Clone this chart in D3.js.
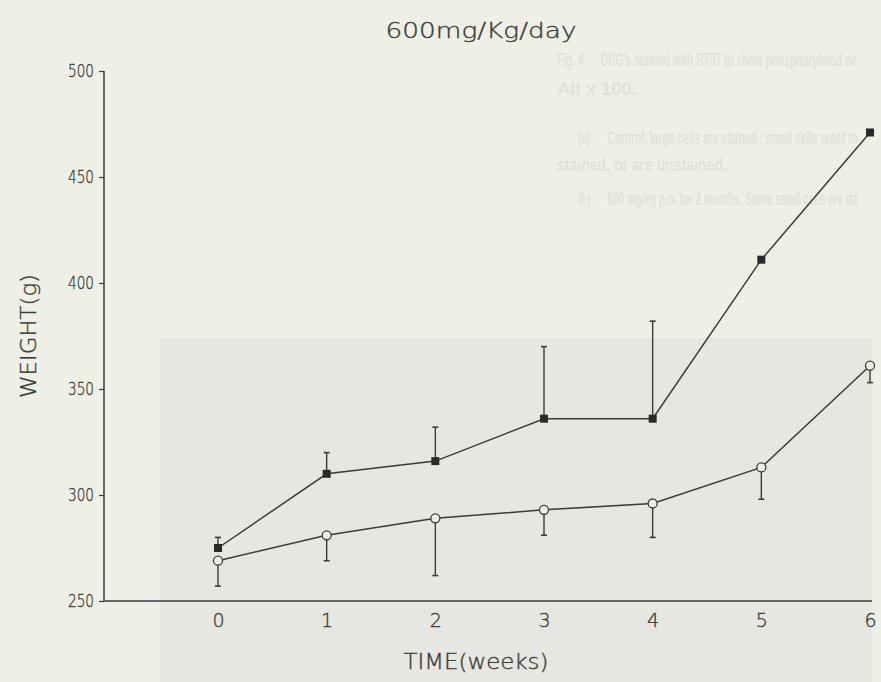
<!DOCTYPE html>
<html>
<head>
<meta charset="utf-8">
<script src="https://cdn.jsdelivr.net/npm/d3@7"></script>
<style>
  body { margin: 0; background: #eef0e5; }
  svg { display: block; }
</style>
</head>
<body>
<svg id="chart"></svg>
<script>
// values
var weeks = [0, 1, 2, 3, 4, 5, 6];
var squareMean = [275, 310, 316, 336, 336, 411, 471];
var squareErr  = [5, 10, 16, 34, 46, 0, 0];      // bars drawn upward
var circleMean = [269, 281, 289, 293, 296, 313, 361];
var circleErr  = [12, 12, 27, 12, 16, 15, 8];    // bars drawn downward
var yTicks = [250, 300, 350, 400, 450, 500];

// faint text showing through from the next page
var ghostLines = [
    { x: 557, y: 66,  w: 300, t: "Fig. 4      DRG's stained with RT97 to show phosphorylated ne" },
    { x: 557, y: 95,  w: 80,  t: "All x 100." },
    { x: 578, y: 144, w: 280, t: "(a)      Control. large cells are stained ; small cells react to" },
    { x: 557, y: 171, w: 170, t: "stained, or are unstained." },
    { x: 578, y: 205, w: 280, t: "(b)      600 mg/kg p.o. for 2 months. Some small cells are da" }
];

function draw_chart() {
    var width = 881;
    var height = 682;
    var ink = "#3b3b38";
    var font = "DejaVu Sans, Liberation Sans, sans-serif";

    var svg = d3.select("#chart")
        .attr("width", width)
        .attr("height", height);

    svg.append("rect")
        .attr("width", width).attr("height", height)
        .attr("fill", "#eef0e5");

    // grey photo region behind
    svg.append("rect")
        .attr("x", 160).attr("y", 338)
        .attr("width", 712).attr("height", height - 338)
        .attr("fill", "#e5e7e0");

    // ghost rows: squeezed with a transform so they stay inside the page
    svg.selectAll(".ghost")
        .data(ghostLines)
        .enter().append("text")
        .attr("class", "ghost")
        .attr("font-family", "Liberation Sans, Arial, sans-serif")
        .attr("font-size", 19)
        .attr("font-weight", "bold")
        .attr("fill", "#e1e3d9")
        .style("white-space", "pre")
        .text(function(d) { return d.t; })
        .attr("transform", function(d) {
            var natural = this.getComputedTextLength();
            var sx = Math.min(1, d.w / natural);
            return "translate(" + d.x + "," + d.y + ") scale(" + sx + ",1)";
        });

    var xScale = d3.scaleLinear()
        .domain([0, 6])
        .range([218, 870]);

    var yScale = d3.scaleLinear()
        .domain([250, 500])
        .range([601, 71]);

    var g = svg.append("g");

    function plotText(sel) {
        sel.attr("fill", ink)
           .attr("stroke", ink)
           .attr("stroke-width", 0.35)
           .attr("font-weight", 200)
           .attr("font-family", font);
    }

    // y axis
    var y_axis = d3.axisLeft(yScale)
        .tickValues(yTicks)
        .tickSize(5)
        .tickPadding(5)
        .tickFormat(d3.format("d"));

    var yg = g.append("g")
        .attr("transform", "translate(104,0)")
        .call(y_axis);
    yg.select(".domain").remove();
    yg.append("line")
        .attr("x1", 0).attr("x2", 0)
        .attr("y1", yScale(500)).attr("y2", yScale(250))
        .attr("stroke", ink).attr("stroke-width", 1.5);
    yg.selectAll(".tick line").attr("stroke", ink).attr("stroke-width", 1.2);
    yg.selectAll(".tick text")
        .call(plotText)
        .attr("font-size", 18)
        .attr("textLength", 26)
        .attr("lengthAdjust", "spacingAndGlyphs");

    // x axis
    var x_axis = d3.axisBottom(xScale)
        .tickValues(weeks)
        .tickSize(0)
        .tickPadding(13)
        .tickFormat(d3.format("d"));

    var xg = g.append("g")
        .attr("transform", "translate(0,601)")
        .call(x_axis);
    xg.select(".domain").remove();
    xg.append("line")
        .attr("x1", 104).attr("x2", 872)
        .attr("y1", 0).attr("y2", 0)
        .attr("stroke", ink).attr("stroke-width", 1.5);
    xg.selectAll(".tick text")
        .call(plotText)
        .attr("font-size", 19);

    // titles
    g.append("text")
        .attr("x", 481).attr("y", 38)
        .attr("text-anchor", "middle")
        .call(plotText)
        .attr("font-size", 21)
        .attr("textLength", 191)
        .attr("lengthAdjust", "spacingAndGlyphs")
        .text("600mg/Kg/day");

    g.append("text")
        .attr("transform", "translate(36,336) rotate(-90)")
        .attr("text-anchor", "middle")
        .call(plotText)
        .attr("font-size", 21)
        .attr("textLength", 124)
        .attr("lengthAdjust", "spacingAndGlyphs")
        .text("WEIGHT(g)");

    g.append("text")
        .attr("x", 476).attr("y", 669)
        .attr("text-anchor", "middle")
        .call(plotText)
        .attr("font-size", 21)
        .attr("textLength", 145)
        .attr("lengthAdjust", "spacingAndGlyphs")
        .text("TIME(weeks)");

    var line = d3.line()
        .x(function(d, i) { return xScale(weeks[i]); })
        .y(function(d) { return yScale(d); });

    // error bars
    function errorBars(means, errs, dir, cls) {
        var eb = g.selectAll("." + cls)
            .data(means)
            .enter().append("g")
            .attr("class", cls)
            .filter(function(d, i) { return errs[i] > 0; });
        eb.append("line")
            .attr("x1", function(d, i) { return xScale(weeks[i]); })
            .attr("x2", function(d, i) { return xScale(weeks[i]); })
            .attr("y1", function(d) { return yScale(d); })
            .attr("y2", function(d, i) { return yScale(d + dir * errs[i]); })
            .attr("stroke", ink).attr("stroke-width", 1.4);
        eb.append("line")
            .attr("x1", function(d, i) { return xScale(weeks[i]) - 3; })
            .attr("x2", function(d, i) { return xScale(weeks[i]) + 3; })
            .attr("y1", function(d, i) { return yScale(d + dir * errs[i]); })
            .attr("y2", function(d, i) { return yScale(d + dir * errs[i]); })
            .attr("stroke", ink).attr("stroke-width", 1.6);
    }
    errorBars(squareMean, squareErr, 1, "sqerr");
    errorBars(circleMean, circleErr, -1, "cierr");

    g.append("path")
        .datum(squareMean)
        .attr("d", line)
        .attr("fill", "none")
        .attr("stroke", ink)
        .attr("stroke-width", 1.5);

    g.append("path")
        .datum(circleMean)
        .attr("d", line)
        .attr("fill", "none")
        .attr("stroke", ink)
        .attr("stroke-width", 1.5);

    g.selectAll(".sq")
        .data(squareMean)
        .enter().append("rect")
        .attr("class", "sq")
        .attr("x", function(d, i) { return xScale(weeks[i]) - 4; })
        .attr("y", function(d) { return yScale(d) - 4; })
        .attr("width", 8).attr("height", 8)
        .attr("fill", "#2a2a28");

    g.selectAll(".ci")
        .data(circleMean)
        .enter().append("circle")
        .attr("class", "ci")
        .attr("cx", function(d, i) { return xScale(weeks[i]); })
        .attr("cy", function(d) { return yScale(d); })
        .attr("r", 4.5)
        .attr("fill", "#eef0e5")
        .attr("stroke", ink)
        .attr("stroke-width", 1.3);
}

draw_chart();
</script>
</body>
</html>
